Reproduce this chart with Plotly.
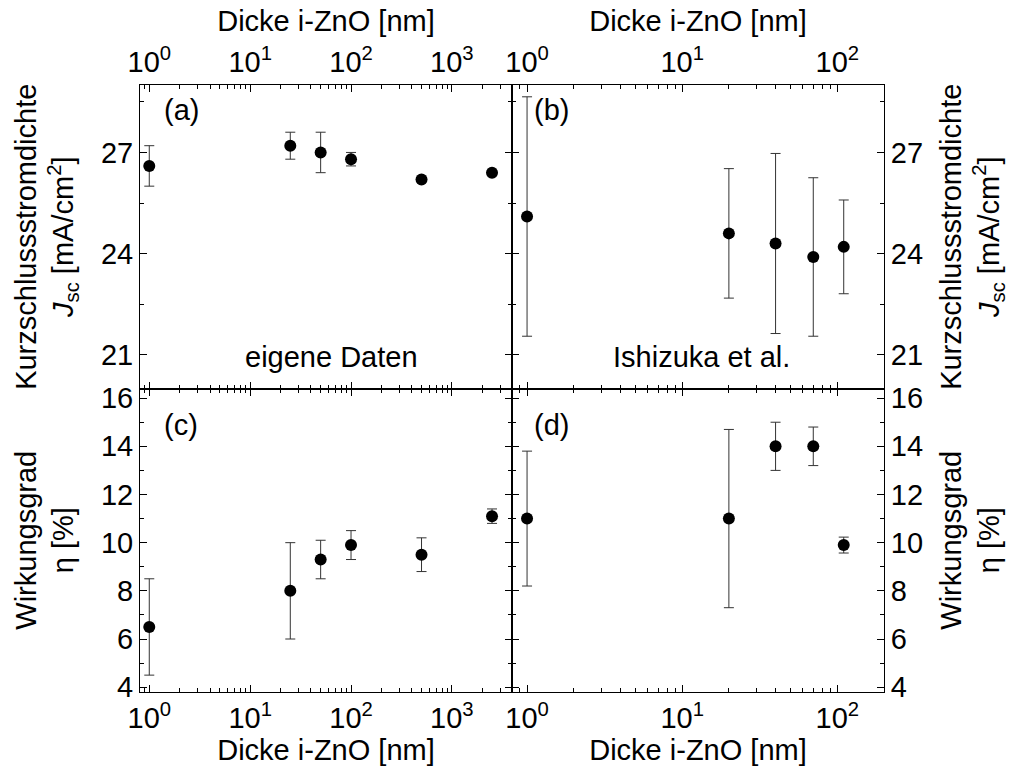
import plotly.graph_objects as go
from plotly.subplots import make_subplots

# ---- data ----
# (a) eigene Daten: Jsc
xa = [1, 25, 50, 100, 500, 2500]
ya = [26.6, 27.2, 27.0, 26.8, 26.2, 26.4]
ea = [0.6, 0.4, 0.6, 0.2, 0.0, 0.0]
# (b) Ishizuka et al.: Jsc
xb = [1, 20, 40, 70, 110]
yb = [25.1, 24.6, 24.3, 23.9, 24.2]
eb = [3.55, 1.92, 2.67, 2.35, 1.39]
# (c) eigene Daten: efficiency
xc = [1, 25, 50, 100, 500, 2500]
yc = [6.5, 8.0, 9.3, 9.9, 9.5, 11.1]
ec = [2.0, 2.0, 0.8, 0.6, 0.7, 0.3]
# (d) Ishizuka et al.: efficiency
xd = [1, 20, 40, 70, 110]
yd = [11.0, 11.0, 14.0, 14.0, 9.9]
ed = [2.8, 3.7, 1.0, 0.8, 0.33]

xtick_vals_left = [1, 10, 100, 1000]
xtick_text_left = ["10<sup>0</sup>", "10<sup>1</sup>", "10<sup>2</sup>", "10<sup>3</sup>"]
xtick_vals_right = [1, 10, 100]
xtick_text_right = ["10<sup>0</sup>", "10<sup>1</sup>", "10<sup>2</sup>"]
jsc_ticks = [21, 24, 27]
eta_ticks = [4, 6, 8, 10, 12, 14, 16]

FONT = "Liberation Sans, Arial, sans-serif"
FS = 29

fig = make_subplots(rows=2, cols=2, horizontal_spacing=0, vertical_spacing=0)

def add(x, y, e, row, col):
    fig.add_trace(go.Scatter(
        x=x, y=y, mode="markers",
        marker=dict(color="black", size=12),
        error_y=dict(type="data", array=e, visible=True, color="#333333",
                     thickness=1, width=5),
        showlegend=False), row=row, col=col)

add(xa, ya, ea, 1, 1)
add(xb, yb, eb, 1, 2)
add(xc, yc, ec, 2, 1)
add(xd, yd, ed, 2, 2)

minor_left = [m * 10 ** k for k in range(-1, 4) for m in range(2, 10)]
minor_right = [m * 10 ** k for k in range(-1, 3) for m in range(2, 10)]

common_axis = dict(showline=True, linecolor="black", linewidth=1, mirror="ticks",
                   ticks="inside", ticklen=7, tickwidth=1, tickcolor="black",
                   showgrid=False, zeroline=False,
                   tickfont=dict(family=FONT, size=FS, color="black"))

xtitle = dict(text="Dicke i-ZnO [nm]", font=dict(family=FONT, size=FS, color="black"))

for row in (1, 2):
    for col in (1, 2):
        if col == 1:
            rng = [-0.092, 3.596]
            tv, tt, mv = xtick_vals_left, xtick_text_left, minor_left
        else:
            rng = [-0.097, 2.301]
            tv, tt, mv = xtick_vals_right, xtick_text_right, minor_right
        kw = dict(common_axis)
        kw.update(type="log", range=rng, tickmode="array", tickvals=tv, ticktext=tt,
                  minor=dict(tickmode="array", tickvals=mv, ticks="inside", ticklen=4,
                             tickwidth=1, tickcolor="black"),
                  side="top" if row == 1 else "bottom",
                  title=xtitle, title_standoff=2)
        fig.update_xaxes(row=row, col=col, **kw)

        ky = dict(common_axis)
        if row == 1:
            ky.update(range=[20, 29], tickmode="array", tickvals=jsc_ticks,
                      minor=dict(dtick=1.5, tick0=0, ticks="inside", ticklen=4,
                                 tickwidth=1, tickcolor="black"))
            ttl = "Kurzschlussstromdichte<br><i>J</i><sub>sc</sub> [mA/cm<sup>2</sup>]"
        else:
            ky.update(range=[3.8, 16.4], tickmode="array", tickvals=eta_ticks,
                      minor=dict(dtick=1, tick0=0, ticks="inside", ticklen=4,
                                 tickwidth=1, tickcolor="black"))
            ttl = "Wirkungsgrad<br>η [%]"
        ky.update(side="left" if col == 1 else "right",
                  title=dict(text=ttl, font=dict(family=FONT, size=FS, color="black"),
                             standoff=18))
        fig.update_yaxes(row=row, col=col, **ky)

ann_font = dict(family=FONT, size=FS, color="black")
def label(text, xref, yref, x, y, xanchor="left"):
    fig.add_annotation(text=text, xref=xref, yref=yref, x=x, y=y, showarrow=False,
                       xanchor=xanchor, yanchor="middle", font=ann_font)

label("(a)", "x domain", "y domain", 0.06, 0.918)
label("(b)", "x2 domain", "y2 domain", 0.055, 0.918)
label("(c)", "x3 domain", "y3 domain", 0.06, 0.881)
label("(d)", "x4 domain", "y4 domain", 0.055, 0.881)
label("eigene Daten", "x domain", "y domain", 0.514, 0.105, "center")
label("Ishizuka et al.", "x2 domain", "y2 domain", 0.509, 0.105, "center")

fig.update_layout(width=1024, height=769,
                  margin=dict(l=140, r=140, t=85, b=77),
                  paper_bgcolor="white", plot_bgcolor="white",
                  font=dict(family=FONT, size=FS, color="black"))

fig.write_html("out.html")
